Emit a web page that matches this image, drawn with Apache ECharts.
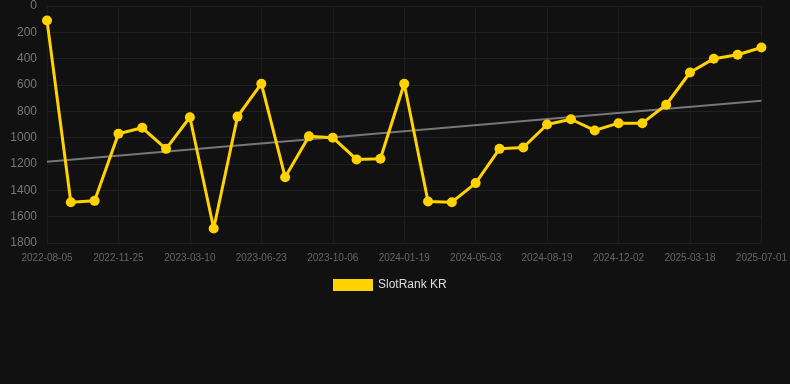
<!DOCTYPE html>
<html>
<head>
<meta charset="utf-8">
<script src="https://cdn.jsdelivr.net/npm/echarts@6/dist/echarts.min.js"></script>
<style>
  html, body { margin: 0; padding: 0; background: #111111; }
  #chart { width: 790px; height: 384px; }
</style>
</head>
<body>
<div id="chart"></div>
<script>
// dates of each rank sample
const dates = [
  '2022-08-05', '2022-09-11', '2022-10-18', '2022-11-25', '2022-12-30', '2023-02-03',
  '2023-03-10', '2023-04-14', '2023-05-19', '2023-06-23', '2023-07-28', '2023-09-01',
  '2023-10-06', '2023-11-10', '2023-12-15', '2024-01-19', '2024-02-23', '2024-03-29',
  '2024-05-03', '2024-06-08', '2024-07-14', '2024-08-19', '2024-09-22', '2024-10-27',
  '2024-12-02', '2025-01-06', '2025-02-11', '2025-03-18', '2025-04-21', '2025-05-26',
  '2025-07-01',
];
const ranks = [
  110, 1490, 1480, 970, 925, 1085, 845, 1690, 840, 590, 1300, 990,
  1000, 1165, 1160, 590, 1485, 1490, 1345, 1085, 1075, 900, 860, 945,
  890, 890, 750, 505, 400, 370, 315,
];
const trendEnds = [1182, 720]; // trend line value at first / last date
const yTicks = { min: 0, max: 1800, interval: 200 };

const myChart = echarts.init(document.getElementById('chart'));

myChart.setOption({
  backgroundColor: '#111111',
  animation: false,
  grid: { left: 47, right: 28, top: 6, bottom: 141 },
  legend: {
    bottom: 88,
    left: 328,
    data: ['SlotRank KR'],
    itemWidth: 40,
    itemHeight: 12,
    icon: 'rect',
    textStyle: { color: '#dddddd', fontSize: 12 },
  },
  xAxis: {
    type: 'category',
    data: dates,
    boundaryGap: false,
    axisLine: { show: false },
    axisTick: { show: false },
    axisLabel: { color: '#666666', fontSize: 10, interval: 2, margin: 10 },
    splitLine: { show: true, interval: 2, lineStyle: { color: '#1c1c1c' } },
  },
  yAxis: {
    type: 'value',
    inverse: true,
    min: yTicks.min,
    max: yTicks.max,
    interval: yTicks.interval,
    axisLine: { show: false },
    axisTick: { show: false },
    axisLabel: { color: '#777777', fontSize: 12, margin: 10, formatter: (v) => String(v) },
    splitLine: { lineStyle: { color: '#202020' } },
  },
  series: [
    {
      name: 'trend',
      type: 'line',
      data: [[dates[0], trendEnds[0]], [dates[dates.length - 1], trendEnds[1]]],
      symbol: 'none',
      lineStyle: { color: '#777777', width: 2 },
      z: 1,
    },
    {
      name: 'SlotRank KR',
      type: 'line',
      data: ranks,
      symbol: 'circle',
      symbolSize: 10,
      itemStyle: { color: '#ffd200' },
      lineStyle: { color: '#ffd200', width: 3 },
      z: 2,
    },
  ],
});
</script>
</body>
</html>
